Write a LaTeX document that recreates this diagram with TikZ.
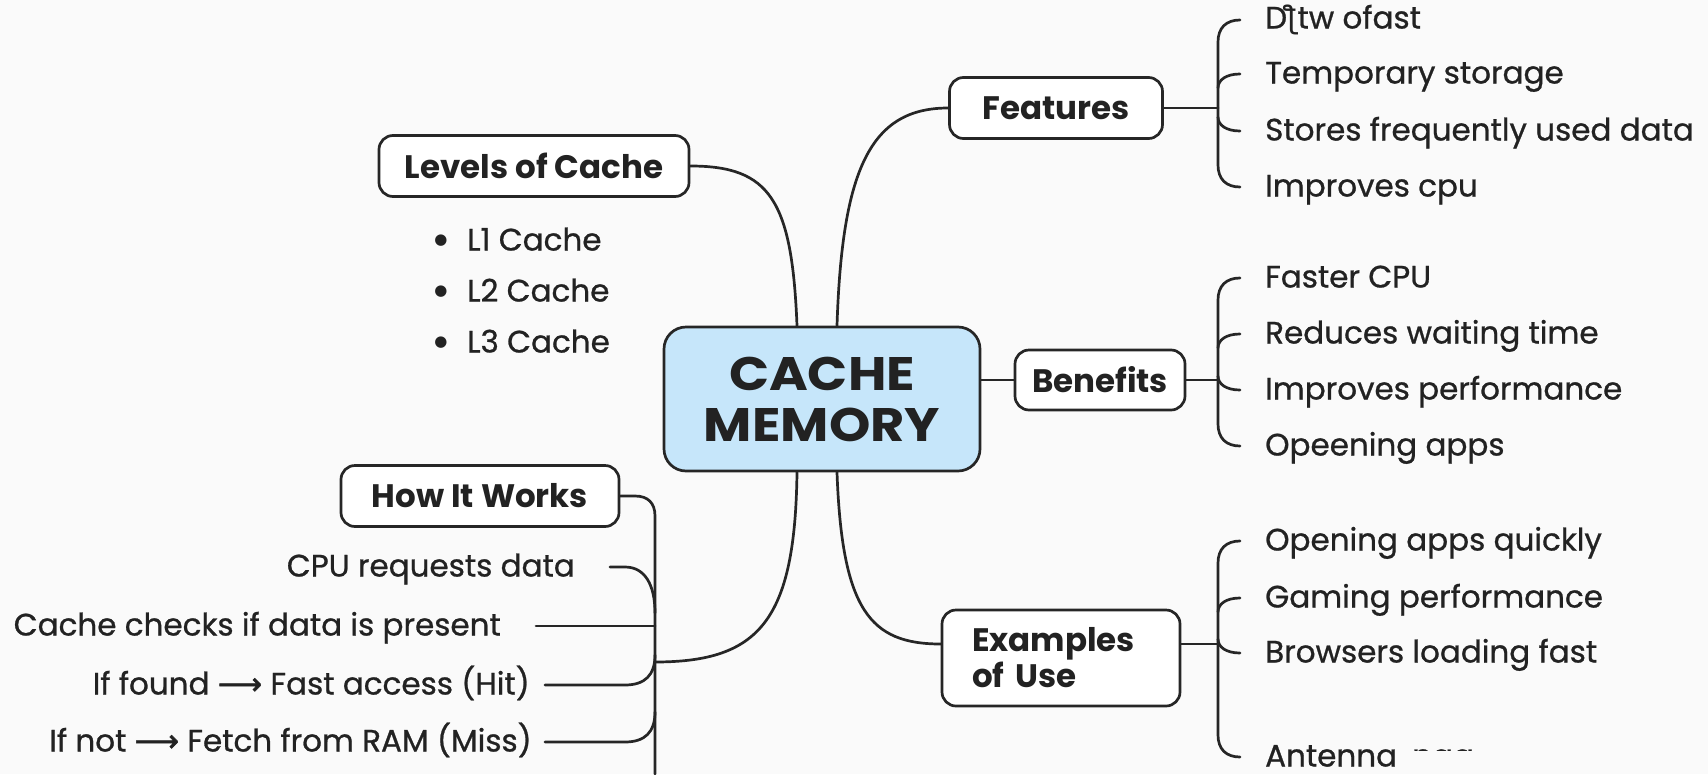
\documentclass[tikz,border=0pt]{standalone}
\usepackage{fontspec}
\setmainfont{Poppins}
\newfontfamily\itemf{Poppins}[FakeBold=0.8]
\newfontfamily\widef{Poppins}[FakeStretch=1.12]
\newfontfamily\dvs{DejaVu Sans}
\newfontfamily\dvsb{DejaVu Sans}[FakeBold=1.6]
\usetikzlibrary{calc}
\definecolor{bg}{RGB}{250,250,250}
\definecolor{ln}{RGB}{38,38,38}
\definecolor{tx}{RGB}{34,34,34}
\definecolor{cfill}{RGB}{198,230,250}
\begin{document}
\begin{tikzpicture}[x=1pt,y=-1pt,
 conn/.style={draw=ln, line width=2.7pt, line cap=round},
 box/.style={draw=ln, line width=2.7pt, rounded corners=14pt, fill=white, text=tx, font=\fontsize{32.5}{36}\selectfont\bfseries, inner sep=0pt, minimum height=61pt},
 item/.style={text=tx, font=\fontsize{31}{34}\selectfont\itemf, inner sep=0pt, text height=0.75em, text depth=0.25em},
 bullet/.style={text=tx, font=\fontsize{15}{18}\selectfont\dvs, inner sep=0pt},
]
\fill[bg] (0,0) rectangle (1708,774);
\useasboundingbox (0,0) rectangle (1708,774);

% boxes
\node[box, fill=cfill, rounded corners=22pt, minimum width=316pt, minimum height=144pt, font=\fontsize{47}{51}\selectfont\widef\bfseries, align=center] (center) at (822,399) {CACHE\\MEMORY};
\node[box, minimum width=213pt] (features) at (1056,108) {Features};
\node[box, minimum width=170pt, minimum height=60pt] (benefits) at (1100,380) {Benefits};
\node[box, minimum width=238pt, minimum height=96pt, text width=178pt, inner xsep=30pt, align=left, font=\fontsize{32.5}{36}\selectfont\bfseries] (examples) at (1061,658) {Examples\\of Use};
\node[box, minimum width=310pt] (levels) at (534,166) {Levels of Cache};
\node[box, minimum width=278pt] (how) at (480,496) {How It Works};

% center connectors
\draw[conn] ([xshift=-25pt]center.north) .. controls (792,200) and (770,166) .. (levels.east);
\draw[conn] ([xshift=15pt]center.north) .. controls (842,170) and (870,108) .. (features.west);
\draw[conn] (center.east |- benefits.west) -- (benefits.west);
\draw[conn] ([xshift=15pt]center.south) .. controls (842,610) and (870,644) .. ([yshift=14pt]examples.west);
\coordinate (hj) at (655,662);
\draw[conn] ([xshift=-25pt]center.south) .. controls (795,620) and (760,662) .. (hj);

% features items
\node[item, anchor=west] (f1) at (1265,26) {D{\dvs ƪ}tw ofast};
\node[item, anchor=west] (f2) at (1265,81) {Temporary storage};
\node[item, anchor=west] (f3) at (1265,138) {Stores frequently used data};
\node[item, anchor=west] (f4) at (1265,194) {Improves cpu};
\coordinate (fb) at (1218,108);
\draw[conn] (features.east) -- (fb);
\draw[conn] (1240,20) .. controls (1226,20) and (1218,28) .. (1218,42) -- (1218,165) .. controls (1218,179) and (1226,187) .. (1240,187);
\draw[conn] (1218,88) .. controls (1218,80) and (1226,74) .. (1240,74);
\draw[conn] (1218,117) .. controls (1218,125) and (1226,131) .. (1240,131);

% benefits items
\node[item, anchor=west] (b1) at (1265,285) {Faster CPU};
\node[item, anchor=west] (b2) at (1265,341) {Reduces waiting time};
\node[item, anchor=west] (b3) at (1265,397) {Improves performance};
\node[item, anchor=west] (b4) at (1265,453) {Opeening apps};
\coordinate (bb) at (1218,380);
\draw[conn] (benefits.east) -- (bb);
\draw[conn] (1240,278) .. controls (1226,278) and (1218,286) .. (1218,300) -- (1218,424) .. controls (1218,438) and (1226,446) .. (1240,446);
\draw[conn] (1218,348) .. controls (1218,340) and (1226,334) .. (1240,334);
\draw[conn] (1218,376) .. controls (1218,384) and (1226,390) .. (1240,390);

% examples items
\node[item, anchor=west] (e1) at (1265,548) {Opening apps quickly};
\node[item, anchor=west] (e2) at (1265,605) {Gaming performance};
\node[item, anchor=west] (e3) at (1265,660) {Browsers loading fast};
\node[item, anchor=west] (e4) at (1265,764) {Antenna};
\begin{scope}
\clip (1402,744) rectangle (1480,750);
\node[item, anchor=west] (e5) at (1412,764) {nag};
\end{scope}
\coordinate (eb) at (1218,644);
\draw[conn] ([yshift=14pt]examples.east) -- (eb);
\draw[conn] (1240,541) .. controls (1226,541) and (1218,549) .. (1218,563) -- (1218,735) .. controls (1218,749) and (1226,757) .. (1240,757);
\draw[conn] (1218,612) .. controls (1218,604) and (1226,598) .. (1240,598);
\draw[conn] (1218,639) .. controls (1218,647) and (1226,653) .. (1240,653);

% levels items
\node[bullet] (lb1) at (441,241) {●};
\node[bullet] (lb2) at (441,292) {●};
\node[bullet] (lb3) at (441,343) {●};
\node[item, anchor=west] (l1) at (467,248) {L1 Cache};
\node[item, anchor=west] (l2) at (467,299) {L2 Cache};
\node[item, anchor=west] (l3) at (467,350) {L3 Cache};

% how it works items
\node[item, anchor=east] (h1) at (575,574) {CPU requests data};
\node[item, anchor=east] (h2) at (501,633) {Cache checks if data is present};
\node[item, anchor=east] (h3) at (530,692) {If found {\dvsb ⟶} Fast access (Hit)};
\node[item, anchor=east] (h4) at (532,749) {If not {\dvsb ⟶} Fetch from RAM (Miss)};
\coordinate (hv) at (655,774);
\draw[conn] (how.east) -- (635,496) .. controls (648,496) and (655,503) .. (655,516) -- (hv);
\draw[conn] ([xshift=35pt,yshift=7pt]h1.east) -- (625,567) .. controls (645,567) and (655,585) .. (655,613);
\draw[conn] ([xshift=35pt,yshift=7pt]h2.east) -- (655,626);
\draw[conn] ([xshift=15pt,yshift=7pt]h3.east) -- (625,685) .. controls (645,685) and (655,675) .. (655,655);
\draw[conn] ([xshift=13pt,yshift=7pt]h4.east) -- (625,742) .. controls (645,742) and (655,732) .. (655,712);
\end{tikzpicture}
\end{document}
